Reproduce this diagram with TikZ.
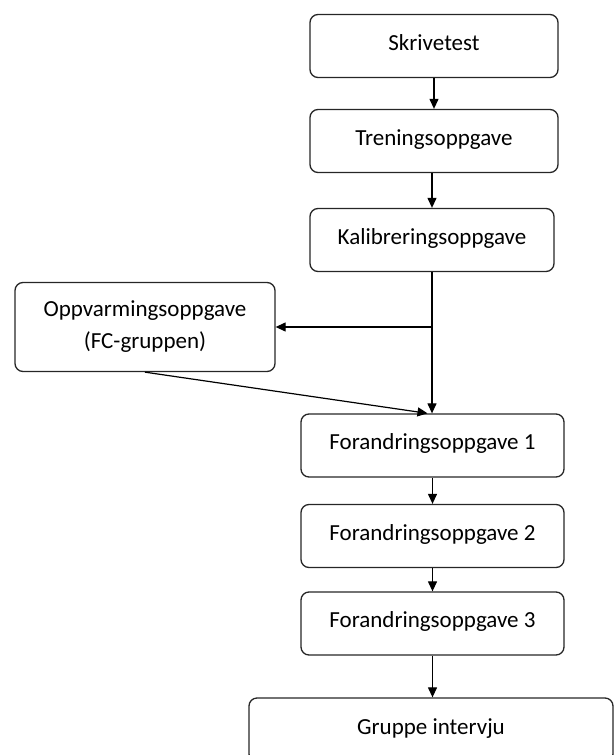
\documentclass[tikz,border=0pt]{standalone}
\usepackage{fontspec}
\setmainfont{Carlito}
\usetikzlibrary{arrows.meta}
\begin{document}
\begin{tikzpicture}[
			x=1pt, y=-1pt,
			frame/.style={draw=black!85, line width=1.3pt, rounded corners=8pt,
					minimum width=248pt, minimum height=63pt, inner sep=0pt,
					align=center, font=\fontsize{23}{32}\selectfont},
			box/.style={frame, text depth=7pt},
			wide/.style={box, minimum width=263pt},
			flow/.style={draw, line width=1.2pt, -{Triangle[length=10pt,width=9pt]}}
		]
		\useasboundingbox (0,0) rectangle (614,755);
		\node[box] (skrive) at (434,46) {Skrivetest};
		\node[box] (trening) at (434,141) {Treningsoppgave};
		\node[box, minimum width=244pt] (kalib) at (432,240) {Kalibreringsoppgave};
		\node[frame, minimum width=260pt, minimum height=89pt] (oppvarm) at (145,327) {Oppvarmingsoppgave\\(FC-gruppen)};
		\node[wide] (forand1) at (432.5,445.5) {Forandringsoppgave 1};
		\node[wide] (forand2) at (432.5,536) {Forandringsoppgave 2};
		\node[wide] (forand3) at (432.5,623.5) {Forandringsoppgave 3};
		\node[box, minimum width=364pt, minimum height=64pt] (gruppe) at (431,730) {Gruppe intervju};
		\coordinate (split) at (kalib.south |- oppvarm.east);
		\draw[flow] (skrive) -- (trening);
		\draw[flow] (kalib.north |- trening.south) -- (kalib);
		\draw[flow] (kalib) -- (forand1.north -| kalib.south);
		\draw[flow] (split) -- (oppvarm.east);
		\draw[flow] (oppvarm.south) -- ([xshift=-5pt]forand1.north);
		\draw[flow] (forand1) -- (forand2);
		\draw[flow] (forand2) -- (forand3);
		\draw[flow] (forand3) -- (forand3.south |- gruppe.north);
	\end{tikzpicture}
\end{document}
